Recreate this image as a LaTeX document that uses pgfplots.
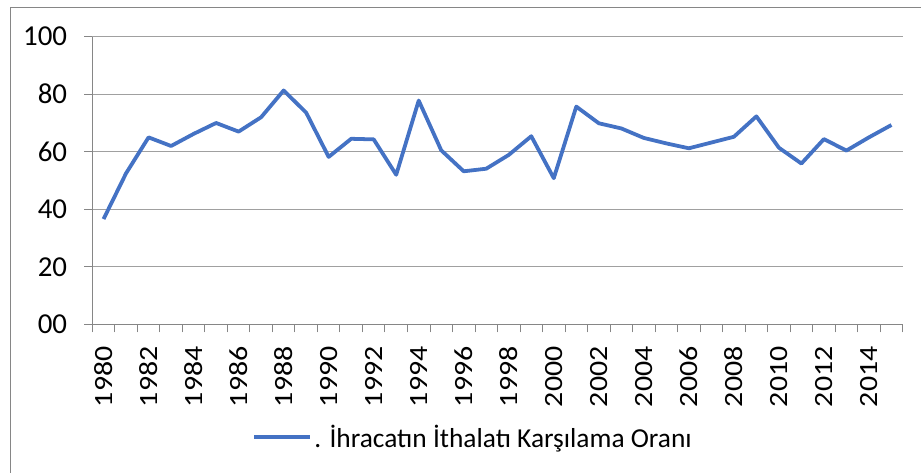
\documentclass[border=0pt]{standalone}
\usepackage{pgfplots}
\pgfplotsset{compat=1.18}
\usepackage{fontspec}
\setmainfont{Carlito}
\definecolor{lineblue}{RGB}{68,114,196}
\definecolor{gridgray}{RGB}{160,160,160}
\definecolor{axisgray}{RGB}{134,134,134}
\begin{document}
\begin{tikzpicture}
\begin{axis}[
  scale only axis,
  width=810.4bp, height=287.6bp,
  at={(0,0)}, anchor=south west,
  xmin=1979.5, xmax=2015.5,
  ymin=0, ymax=100,
  axis lines=left,
  axis line style={-, axisgray, line width=0.9pt},
  ytick={0,20,40,60,80,100},
  yticklabels={00,20,40,60,80,100},
  xtick={1980,1982,...,2014},
  xticklabels={1980,1982,1984,1986,1988,1990,1992,1994,1996,1998,2000,2002,2004,2006,2008,2010,2012,2014},
  minor xtick={1979.5,1980.5,...,2015.5},
  tick align=outside,
  tick pos=left,
  major tick length=8bp,
  minor tick length=8bp,
  x tick style={draw=none},
  minor x tick style={draw=axisgray, line width=0.9pt},
  y tick style={draw=axisgray, line width=0.9pt},
  ymajorgrids,
  grid style={gridgray, line width=0.9pt},
  yticklabel style={font=\fontsize{29}{29}\selectfont, inner sep=0pt, xshift=-17bp},
  xticklabel style={font=\fontsize{30}{30}\selectfont, yshift=-14bp, rotate=90, yscale=0.88, anchor=east, inner sep=0pt},
  legend style={at={(0.47,-0.392)}, anchor=center, draw=none, fill=none,
    font=\fontsize{27.5}{27.5}\selectfont},
  legend image code/.code={\draw[#1, line width=3.8pt] (0bp,0bp) -- (56bp,0bp);},
  legend cell align=left,
  clip=false,
]
\addplot[lineblue, line width=3.8pt, line join=round] coordinates {
(1980,36.6) (1981,52.5) (1982,65.0) (1983,62.0) (1984,66.2) (1985,70.0)
(1986,67.0) (1987,72.0) (1988,81.3) (1989,73.6) (1990,58.2) (1991,64.5)
(1992,64.3) (1993,52.0) (1994,77.8) (1995,60.5) (1996,53.2) (1997,54.1)
(1998,58.9) (1999,65.4) (2000,50.8) (2001,75.7) (2002,69.9) (2003,68.1)
(2004,64.8) (2005,62.9) (2006,61.2) (2007,63.2) (2008,65.2) (2009,72.3)
(2010,61.4) (2011,55.9) (2012,64.4) (2013,60.4) (2014,65.0) (2015,69.3)
};
\addlegendentry{. İhracatın İthalatı Karşılama Oranı}
\end{axis}
\draw[axisgray, line width=0.9pt] (-82.3bp,-148.7bp) -- (-82.3bp,317.3bp) -- (828.7bp,317.3bp);
\pgfresetboundingbox
\path[use as bounding box] (-92.3bp,-148.7bp) rectangle (828.7bp,324.3bp);
\end{tikzpicture}
\end{document}
